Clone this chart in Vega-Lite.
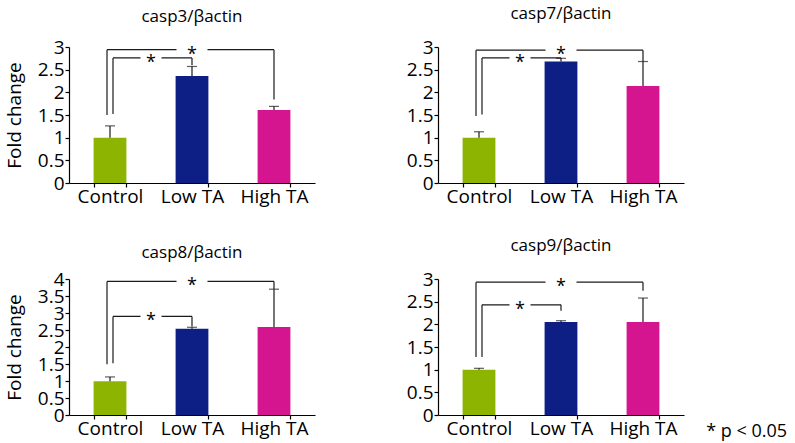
{
  "$schema": "https://vega.github.io/schema/vega-lite/v6.json",
  "padding": {"left": 5, "top": 5, "right": 0, "bottom": 0},
  "bounds": "flush",
  "columns": 2,
  "spacing": {"row": 96, "column": 123},
  "title": {"text": "* p < 0.05", "orient": "bottom", "anchor": "end", "frame": "bounds", "fontSize": 18, "fontWeight": "normal", "font": "Open Sans", "color": "#000", "dx": 103, "dy": -19},
  "datasets": {
    "bars": [
      {"panel": "casp3", "group": "Control", "mean": 1.0, "hi": 1.26},
      {"panel": "casp3", "group": "Low TA", "mean": 2.36, "hi": 2.57},
      {"panel": "casp3", "group": "High TA", "mean": 1.61, "hi": 1.69},
      {"panel": "casp7", "group": "Control", "mean": 1.0, "hi": 1.13},
      {"panel": "casp7", "group": "Low TA", "mean": 2.68, "hi": 2.75},
      {"panel": "casp7", "group": "High TA", "mean": 2.14, "hi": 2.68},
      {"panel": "casp8", "group": "Control", "mean": 0.99, "hi": 1.12},
      {"panel": "casp8", "group": "Low TA", "mean": 2.54, "hi": 2.58},
      {"panel": "casp8", "group": "High TA", "mean": 2.59, "hi": 3.7},
      {"panel": "casp9", "group": "Control", "mean": 1.0, "hi": 1.03},
      {"panel": "casp9", "group": "Low TA", "mean": 2.05, "hi": 2.08},
      {"panel": "casp9", "group": "High TA", "mean": 2.05, "hi": 2.58}
    ],
    "sig": [
      {"panel": "casp3", "type": "outer", "from": "Control", "to": "High TA", "top": 2.94, "leftEnd": 1.5, "rightEnd": 1.84},
      {"panel": "casp3", "type": "inner", "from": "Control", "to": "Low TA", "top": 2.76, "leftEnd": 1.52, "rightEnd": 2.6},
      {"panel": "casp7", "type": "outer", "from": "Control", "to": "High TA", "top": 2.93, "leftEnd": 1.48, "rightEnd": 2.68},
      {"panel": "casp7", "type": "inner", "from": "Control", "to": "Low TA", "top": 2.76, "leftEnd": 1.51, "rightEnd": 2.74},
      {"panel": "casp8", "type": "outer", "from": "Control", "to": "High TA", "top": 3.93, "leftEnd": 1.49, "rightEnd": 3.7},
      {"panel": "casp8", "type": "inner", "from": "Control", "to": "Low TA", "top": 2.9, "leftEnd": 1.52, "rightEnd": 2.6},
      {"panel": "casp9", "type": "outer", "from": "Control", "to": "High TA", "top": 2.93, "leftEnd": 1.28, "rightEnd": 2.74},
      {"panel": "casp9", "type": "inner", "from": "Control", "to": "Low TA", "top": 2.43, "leftEnd": 1.28, "rightEnd": 2.3}
    ]
  },
  "concat": [
    {
      "width": 246, "height": 136,
      "title": {"text": "casp3/βactin", "offset": 12},
      "layer": [
        {"data": {"name": "bars"}, "transform": [{"filter": "datum.panel === 'casp3'"}], "mark": {"type": "bar"}, "encoding": {
          "x": {"field": "group", "type": "nominal", "scale": {"domain": ["Control", "Low TA", "High TA"], "paddingInner": 0.6, "paddingOuter": 0.3}, "axis": {"title": null, "labelAngle": 0, "tickBand": "extent", "labelPadding": 0}},
          "y": {"field": "mean", "type": "quantitative", "scale": {"domain": [0, 3], "nice": false}, "axis": {"title": "Fold change", "values": [0, 0.5, 1, 1.5, 2, 2.5, 3], "labelOverlap": false, "labelFlush": false, "labelPadding": 1, "titlePadding": 13}},
          "color": {"field": "group", "type": "nominal", "scale": {"domain": ["Control", "Low TA", "High TA"], "range": ["#8CB400", "#0D1F85", "#D5148F"]}, "legend": null}}},
        {"data": {"name": "bars"}, "transform": [{"filter": "datum.panel === 'casp3'"}], "mark": {"type": "rule", "color": "#1a1a1a", "strokeWidth": 1.2}, "encoding": {
          "x": {"field": "group", "type": "nominal", "axis": {"title": null, "labelAngle": 0, "tickBand": "extent", "labelPadding": 0}},
          "y": {"field": "mean", "type": "quantitative", "axis": {"title": "Fold change", "values": [0, 0.5, 1, 1.5, 2, 2.5, 3], "labelOverlap": false, "labelFlush": false, "labelPadding": 1, "titlePadding": 13}},
          "y2": {"field": "hi"}}},
        {"data": {"name": "bars"}, "transform": [{"filter": "datum.panel === 'casp3'"}], "mark": {"type": "tick", "color": "#1a1a1a", "thickness": 1.2, "size": 10}, "encoding": {
          "x": {"field": "group", "type": "nominal", "axis": {"title": null, "labelAngle": 0, "tickBand": "extent", "labelPadding": 0}},
          "y": {"field": "hi", "type": "quantitative", "axis": {"title": "Fold change", "values": [0, 0.5, 1, 1.5, 2, 2.5, 3], "labelOverlap": false, "labelFlush": false, "labelPadding": 1, "titlePadding": 13}}}},
        {"data": {"name": "sig"}, "transform": [{"filter": "datum.panel === 'casp3' && datum.type === 'outer'"}], "mark": {"type": "rule", "color": "#1a1a1a", "strokeWidth": 1.2, "xOffset": -3}, "encoding": {
          "x": {"field": "from", "type": "nominal", "axis": {"title": null, "labelAngle": 0, "tickBand": "extent", "labelPadding": 0}},
          "y": {"field": "top", "type": "quantitative", "axis": {"title": "Fold change", "values": [0, 0.5, 1, 1.5, 2, 2.5, 3], "labelOverlap": false, "labelFlush": false, "labelPadding": 1, "titlePadding": 13}},
          "y2": {"field": "leftEnd"}}},
        {"data": {"name": "sig"}, "transform": [{"filter": "datum.panel === 'casp3' && datum.type === 'outer'"}], "mark": {"type": "rule", "color": "#1a1a1a", "strokeWidth": 1.2, "xOffset": -3}, "encoding": {
          "x": {"field": "from", "type": "nominal", "axis": {"title": null, "labelAngle": 0, "tickBand": "extent", "labelPadding": 0}},
          "x2": {"field": "to"},
          "y": {"field": "top", "type": "quantitative", "axis": {"title": "Fold change", "values": [0, 0.5, 1, 1.5, 2, 2.5, 3], "labelOverlap": false, "labelFlush": false, "labelPadding": 1, "titlePadding": 13}}}},
        {"data": {"name": "sig"}, "transform": [{"filter": "datum.panel === 'casp3' && datum.type === 'outer'"}], "mark": {"type": "point", "shape": "M-1,-0.2H1V0.2H-1Z", "size": 961, "filled": true, "color": "white", "opacity": 1, "strokeWidth": 0, "xOffset": 82}, "encoding": {
          "x": {"field": "from", "type": "nominal", "axis": {"title": null, "labelAngle": 0, "tickBand": "extent", "labelPadding": 0}},
          "y": {"field": "top", "type": "quantitative", "axis": {"title": "Fold change", "values": [0, 0.5, 1, 1.5, 2, 2.5, 3], "labelOverlap": false, "labelFlush": false, "labelPadding": 1, "titlePadding": 13}}}},
        {"data": {"name": "sig"}, "transform": [{"filter": "datum.panel === 'casp3' && datum.type === 'outer'"}], "mark": {"type": "text", "text": "*", "fontSize": 18, "color": "#000", "xOffset": 82, "dy": 5}, "encoding": {
          "x": {"field": "from", "type": "nominal", "axis": {"title": null, "labelAngle": 0, "tickBand": "extent", "labelPadding": 0}},
          "y": {"field": "top", "type": "quantitative", "axis": {"title": "Fold change", "values": [0, 0.5, 1, 1.5, 2, 2.5, 3], "labelOverlap": false, "labelFlush": false, "labelPadding": 1, "titlePadding": 13}}}},
        {"data": {"name": "sig"}, "transform": [{"filter": "datum.panel === 'casp3' && datum.type === 'inner'"}], "mark": {"type": "rule", "color": "#1a1a1a", "strokeWidth": 1.2, "xOffset": 3}, "encoding": {
          "x": {"field": "from", "type": "nominal", "axis": {"title": null, "labelAngle": 0, "tickBand": "extent", "labelPadding": 0}},
          "y": {"field": "top", "type": "quantitative", "axis": {"title": "Fold change", "values": [0, 0.5, 1, 1.5, 2, 2.5, 3], "labelOverlap": false, "labelFlush": false, "labelPadding": 1, "titlePadding": 13}},
          "y2": {"field": "leftEnd"}}},
        {"data": {"name": "sig"}, "transform": [{"filter": "datum.panel === 'casp3' && datum.type === 'inner'"}], "mark": {"type": "rule", "color": "#1a1a1a", "strokeWidth": 1.2, "xOffset": 3}, "encoding": {
          "x": {"field": "from", "type": "nominal", "axis": {"title": null, "labelAngle": 0, "tickBand": "extent", "labelPadding": 0}},
          "x2": {"field": "to"},
          "y": {"field": "top", "type": "quantitative", "axis": {"title": "Fold change", "values": [0, 0.5, 1, 1.5, 2, 2.5, 3], "labelOverlap": false, "labelFlush": false, "labelPadding": 1, "titlePadding": 13}}}},
        {"data": {"name": "sig"}, "transform": [{"filter": "datum.panel === 'casp3' && datum.type === 'inner'"}], "mark": {"type": "point", "shape": "M-1,-0.2H1V0.2H-1Z", "size": 441, "filled": true, "color": "white", "opacity": 1, "strokeWidth": 0, "xOffset": 41}, "encoding": {
          "x": {"field": "from", "type": "nominal", "axis": {"title": null, "labelAngle": 0, "tickBand": "extent", "labelPadding": 0}},
          "y": {"field": "top", "type": "quantitative", "axis": {"title": "Fold change", "values": [0, 0.5, 1, 1.5, 2, 2.5, 3], "labelOverlap": false, "labelFlush": false, "labelPadding": 1, "titlePadding": 13}}}},
        {"data": {"name": "sig"}, "transform": [{"filter": "datum.panel === 'casp3' && datum.type === 'inner'"}], "mark": {"type": "text", "text": "*", "fontSize": 18, "color": "#000", "xOffset": 41, "dy": 5}, "encoding": {
          "x": {"field": "from", "type": "nominal", "axis": {"title": null, "labelAngle": 0, "tickBand": "extent", "labelPadding": 0}},
          "y": {"field": "top", "type": "quantitative", "axis": {"title": "Fold change", "values": [0, 0.5, 1, 1.5, 2, 2.5, 3], "labelOverlap": false, "labelFlush": false, "labelPadding": 1, "titlePadding": 13}}}},
        {"data": {"name": "sig"}, "transform": [{"filter": "datum.panel === 'casp3'"}], "mark": {"type": "rule", "color": "#1a1a1a", "strokeWidth": 1.2}, "encoding": {
          "x": {"field": "to", "type": "nominal", "axis": {"title": null, "labelAngle": 0, "tickBand": "extent", "labelPadding": 0}},
          "y": {"field": "top", "type": "quantitative", "axis": {"title": "Fold change", "values": [0, 0.5, 1, 1.5, 2, 2.5, 3], "labelOverlap": false, "labelFlush": false, "labelPadding": 1, "titlePadding": 13}},
          "y2": {"field": "rightEnd"}}}
      ]
    },
    {
      "width": 246, "height": 136,
      "title": {"text": "casp7/βactin", "offset": 15},
      "layer": [
        {"data": {"name": "bars"}, "transform": [{"filter": "datum.panel === 'casp7'"}], "mark": {"type": "bar"}, "encoding": {
          "x": {"field": "group", "type": "nominal", "scale": {"domain": ["Control", "Low TA", "High TA"], "paddingInner": 0.6, "paddingOuter": 0.3}, "axis": {"title": null, "labelAngle": 0, "tickBand": "extent", "labelPadding": 0}},
          "y": {"field": "mean", "type": "quantitative", "scale": {"domain": [0, 3], "nice": false}, "axis": {"title": null, "values": [0, 0.5, 1, 1.5, 2, 2.5, 3], "labelOverlap": false, "labelFlush": false, "labelPadding": 1}},
          "color": {"field": "group", "type": "nominal", "scale": {"domain": ["Control", "Low TA", "High TA"], "range": ["#8CB400", "#0D1F85", "#D5148F"]}, "legend": null}}},
        {"data": {"name": "bars"}, "transform": [{"filter": "datum.panel === 'casp7'"}], "mark": {"type": "rule", "color": "#1a1a1a", "strokeWidth": 1.2}, "encoding": {
          "x": {"field": "group", "type": "nominal", "axis": {"title": null, "labelAngle": 0, "tickBand": "extent", "labelPadding": 0}},
          "y": {"field": "mean", "type": "quantitative", "axis": {"title": null, "values": [0, 0.5, 1, 1.5, 2, 2.5, 3], "labelOverlap": false, "labelFlush": false, "labelPadding": 1}},
          "y2": {"field": "hi"}}},
        {"data": {"name": "bars"}, "transform": [{"filter": "datum.panel === 'casp7'"}], "mark": {"type": "tick", "color": "#1a1a1a", "thickness": 1.2, "size": 10}, "encoding": {
          "x": {"field": "group", "type": "nominal", "axis": {"title": null, "labelAngle": 0, "tickBand": "extent", "labelPadding": 0}},
          "y": {"field": "hi", "type": "quantitative", "axis": {"title": null, "values": [0, 0.5, 1, 1.5, 2, 2.5, 3], "labelOverlap": false, "labelFlush": false, "labelPadding": 1}}}},
        {"data": {"name": "sig"}, "transform": [{"filter": "datum.panel === 'casp7' && datum.type === 'outer'"}], "mark": {"type": "rule", "color": "#1a1a1a", "strokeWidth": 1.2, "xOffset": -3}, "encoding": {
          "x": {"field": "from", "type": "nominal", "axis": {"title": null, "labelAngle": 0, "tickBand": "extent", "labelPadding": 0}},
          "y": {"field": "top", "type": "quantitative", "axis": {"title": null, "values": [0, 0.5, 1, 1.5, 2, 2.5, 3], "labelOverlap": false, "labelFlush": false, "labelPadding": 1}},
          "y2": {"field": "leftEnd"}}},
        {"data": {"name": "sig"}, "transform": [{"filter": "datum.panel === 'casp7' && datum.type === 'outer'"}], "mark": {"type": "rule", "color": "#1a1a1a", "strokeWidth": 1.2, "xOffset": -3}, "encoding": {
          "x": {"field": "from", "type": "nominal", "axis": {"title": null, "labelAngle": 0, "tickBand": "extent", "labelPadding": 0}},
          "x2": {"field": "to"},
          "y": {"field": "top", "type": "quantitative", "axis": {"title": null, "values": [0, 0.5, 1, 1.5, 2, 2.5, 3], "labelOverlap": false, "labelFlush": false, "labelPadding": 1}}}},
        {"data": {"name": "sig"}, "transform": [{"filter": "datum.panel === 'casp7' && datum.type === 'outer'"}], "mark": {"type": "point", "shape": "M-1,-0.2H1V0.2H-1Z", "size": 961, "filled": true, "color": "white", "opacity": 1, "strokeWidth": 0, "xOffset": 82}, "encoding": {
          "x": {"field": "from", "type": "nominal", "axis": {"title": null, "labelAngle": 0, "tickBand": "extent", "labelPadding": 0}},
          "y": {"field": "top", "type": "quantitative", "axis": {"title": null, "values": [0, 0.5, 1, 1.5, 2, 2.5, 3], "labelOverlap": false, "labelFlush": false, "labelPadding": 1}}}},
        {"data": {"name": "sig"}, "transform": [{"filter": "datum.panel === 'casp7' && datum.type === 'outer'"}], "mark": {"type": "text", "text": "*", "fontSize": 18, "color": "#000", "xOffset": 82, "dy": 5}, "encoding": {
          "x": {"field": "from", "type": "nominal", "axis": {"title": null, "labelAngle": 0, "tickBand": "extent", "labelPadding": 0}},
          "y": {"field": "top", "type": "quantitative", "axis": {"title": null, "values": [0, 0.5, 1, 1.5, 2, 2.5, 3], "labelOverlap": false, "labelFlush": false, "labelPadding": 1}}}},
        {"data": {"name": "sig"}, "transform": [{"filter": "datum.panel === 'casp7' && datum.type === 'inner'"}], "mark": {"type": "rule", "color": "#1a1a1a", "strokeWidth": 1.2, "xOffset": 3}, "encoding": {
          "x": {"field": "from", "type": "nominal", "axis": {"title": null, "labelAngle": 0, "tickBand": "extent", "labelPadding": 0}},
          "y": {"field": "top", "type": "quantitative", "axis": {"title": null, "values": [0, 0.5, 1, 1.5, 2, 2.5, 3], "labelOverlap": false, "labelFlush": false, "labelPadding": 1}},
          "y2": {"field": "leftEnd"}}},
        {"data": {"name": "sig"}, "transform": [{"filter": "datum.panel === 'casp7' && datum.type === 'inner'"}], "mark": {"type": "rule", "color": "#1a1a1a", "strokeWidth": 1.2, "xOffset": 3}, "encoding": {
          "x": {"field": "from", "type": "nominal", "axis": {"title": null, "labelAngle": 0, "tickBand": "extent", "labelPadding": 0}},
          "x2": {"field": "to"},
          "y": {"field": "top", "type": "quantitative", "axis": {"title": null, "values": [0, 0.5, 1, 1.5, 2, 2.5, 3], "labelOverlap": false, "labelFlush": false, "labelPadding": 1}}}},
        {"data": {"name": "sig"}, "transform": [{"filter": "datum.panel === 'casp7' && datum.type === 'inner'"}], "mark": {"type": "point", "shape": "M-1,-0.2H1V0.2H-1Z", "size": 441, "filled": true, "color": "white", "opacity": 1, "strokeWidth": 0, "xOffset": 41}, "encoding": {
          "x": {"field": "from", "type": "nominal", "axis": {"title": null, "labelAngle": 0, "tickBand": "extent", "labelPadding": 0}},
          "y": {"field": "top", "type": "quantitative", "axis": {"title": null, "values": [0, 0.5, 1, 1.5, 2, 2.5, 3], "labelOverlap": false, "labelFlush": false, "labelPadding": 1}}}},
        {"data": {"name": "sig"}, "transform": [{"filter": "datum.panel === 'casp7' && datum.type === 'inner'"}], "mark": {"type": "text", "text": "*", "fontSize": 18, "color": "#000", "xOffset": 41, "dy": 5}, "encoding": {
          "x": {"field": "from", "type": "nominal", "axis": {"title": null, "labelAngle": 0, "tickBand": "extent", "labelPadding": 0}},
          "y": {"field": "top", "type": "quantitative", "axis": {"title": null, "values": [0, 0.5, 1, 1.5, 2, 2.5, 3], "labelOverlap": false, "labelFlush": false, "labelPadding": 1}}}},
        {"data": {"name": "sig"}, "transform": [{"filter": "datum.panel === 'casp7'"}], "mark": {"type": "rule", "color": "#1a1a1a", "strokeWidth": 1.2}, "encoding": {
          "x": {"field": "to", "type": "nominal", "axis": {"title": null, "labelAngle": 0, "tickBand": "extent", "labelPadding": 0}},
          "y": {"field": "top", "type": "quantitative", "axis": {"title": null, "values": [0, 0.5, 1, 1.5, 2, 2.5, 3], "labelOverlap": false, "labelFlush": false, "labelPadding": 1}},
          "y2": {"field": "rightEnd"}}}
      ]
    },
    {
      "width": 246, "height": 136,
      "title": {"text": "casp8/βactin", "offset": 8},
      "layer": [
        {"data": {"name": "bars"}, "transform": [{"filter": "datum.panel === 'casp8'"}], "mark": {"type": "bar"}, "encoding": {
          "x": {"field": "group", "type": "nominal", "scale": {"domain": ["Control", "Low TA", "High TA"], "paddingInner": 0.6, "paddingOuter": 0.3}, "axis": {"title": null, "labelAngle": 0, "tickBand": "extent", "labelPadding": 0}},
          "y": {"field": "mean", "type": "quantitative", "scale": {"domain": [0, 4], "nice": false}, "axis": {"title": "Fold change", "values": [0, 0.5, 1, 1.5, 2, 2.5, 3, 3.5, 4], "labelOverlap": false, "labelFlush": false, "labelPadding": 1, "titlePadding": 13}},
          "color": {"field": "group", "type": "nominal", "scale": {"domain": ["Control", "Low TA", "High TA"], "range": ["#8CB400", "#0D1F85", "#D5148F"]}, "legend": null}}},
        {"data": {"name": "bars"}, "transform": [{"filter": "datum.panel === 'casp8'"}], "mark": {"type": "rule", "color": "#1a1a1a", "strokeWidth": 1.2}, "encoding": {
          "x": {"field": "group", "type": "nominal", "axis": {"title": null, "labelAngle": 0, "tickBand": "extent", "labelPadding": 0}},
          "y": {"field": "mean", "type": "quantitative", "axis": {"title": "Fold change", "values": [0, 0.5, 1, 1.5, 2, 2.5, 3, 3.5, 4], "labelOverlap": false, "labelFlush": false, "labelPadding": 1, "titlePadding": 13}},
          "y2": {"field": "hi"}}},
        {"data": {"name": "bars"}, "transform": [{"filter": "datum.panel === 'casp8'"}], "mark": {"type": "tick", "color": "#1a1a1a", "thickness": 1.2, "size": 10}, "encoding": {
          "x": {"field": "group", "type": "nominal", "axis": {"title": null, "labelAngle": 0, "tickBand": "extent", "labelPadding": 0}},
          "y": {"field": "hi", "type": "quantitative", "axis": {"title": "Fold change", "values": [0, 0.5, 1, 1.5, 2, 2.5, 3, 3.5, 4], "labelOverlap": false, "labelFlush": false, "labelPadding": 1, "titlePadding": 13}}}},
        {"data": {"name": "sig"}, "transform": [{"filter": "datum.panel === 'casp8' && datum.type === 'outer'"}], "mark": {"type": "rule", "color": "#1a1a1a", "strokeWidth": 1.2, "xOffset": -3}, "encoding": {
          "x": {"field": "from", "type": "nominal", "axis": {"title": null, "labelAngle": 0, "tickBand": "extent", "labelPadding": 0}},
          "y": {"field": "top", "type": "quantitative", "axis": {"title": "Fold change", "values": [0, 0.5, 1, 1.5, 2, 2.5, 3, 3.5, 4], "labelOverlap": false, "labelFlush": false, "labelPadding": 1, "titlePadding": 13}},
          "y2": {"field": "leftEnd"}}},
        {"data": {"name": "sig"}, "transform": [{"filter": "datum.panel === 'casp8' && datum.type === 'outer'"}], "mark": {"type": "rule", "color": "#1a1a1a", "strokeWidth": 1.2, "xOffset": -3}, "encoding": {
          "x": {"field": "from", "type": "nominal", "axis": {"title": null, "labelAngle": 0, "tickBand": "extent", "labelPadding": 0}},
          "x2": {"field": "to"},
          "y": {"field": "top", "type": "quantitative", "axis": {"title": "Fold change", "values": [0, 0.5, 1, 1.5, 2, 2.5, 3, 3.5, 4], "labelOverlap": false, "labelFlush": false, "labelPadding": 1, "titlePadding": 13}}}},
        {"data": {"name": "sig"}, "transform": [{"filter": "datum.panel === 'casp8' && datum.type === 'outer'"}], "mark": {"type": "point", "shape": "M-1,-0.2H1V0.2H-1Z", "size": 961, "filled": true, "color": "white", "opacity": 1, "strokeWidth": 0, "xOffset": 82}, "encoding": {
          "x": {"field": "from", "type": "nominal", "axis": {"title": null, "labelAngle": 0, "tickBand": "extent", "labelPadding": 0}},
          "y": {"field": "top", "type": "quantitative", "axis": {"title": "Fold change", "values": [0, 0.5, 1, 1.5, 2, 2.5, 3, 3.5, 4], "labelOverlap": false, "labelFlush": false, "labelPadding": 1, "titlePadding": 13}}}},
        {"data": {"name": "sig"}, "transform": [{"filter": "datum.panel === 'casp8' && datum.type === 'outer'"}], "mark": {"type": "text", "text": "*", "fontSize": 18, "color": "#000", "xOffset": 82, "dy": 5}, "encoding": {
          "x": {"field": "from", "type": "nominal", "axis": {"title": null, "labelAngle": 0, "tickBand": "extent", "labelPadding": 0}},
          "y": {"field": "top", "type": "quantitative", "axis": {"title": "Fold change", "values": [0, 0.5, 1, 1.5, 2, 2.5, 3, 3.5, 4], "labelOverlap": false, "labelFlush": false, "labelPadding": 1, "titlePadding": 13}}}},
        {"data": {"name": "sig"}, "transform": [{"filter": "datum.panel === 'casp8' && datum.type === 'inner'"}], "mark": {"type": "rule", "color": "#1a1a1a", "strokeWidth": 1.2, "xOffset": 3}, "encoding": {
          "x": {"field": "from", "type": "nominal", "axis": {"title": null, "labelAngle": 0, "tickBand": "extent", "labelPadding": 0}},
          "y": {"field": "top", "type": "quantitative", "axis": {"title": "Fold change", "values": [0, 0.5, 1, 1.5, 2, 2.5, 3, 3.5, 4], "labelOverlap": false, "labelFlush": false, "labelPadding": 1, "titlePadding": 13}},
          "y2": {"field": "leftEnd"}}},
        {"data": {"name": "sig"}, "transform": [{"filter": "datum.panel === 'casp8' && datum.type === 'inner'"}], "mark": {"type": "rule", "color": "#1a1a1a", "strokeWidth": 1.2, "xOffset": 3}, "encoding": {
          "x": {"field": "from", "type": "nominal", "axis": {"title": null, "labelAngle": 0, "tickBand": "extent", "labelPadding": 0}},
          "x2": {"field": "to"},
          "y": {"field": "top", "type": "quantitative", "axis": {"title": "Fold change", "values": [0, 0.5, 1, 1.5, 2, 2.5, 3, 3.5, 4], "labelOverlap": false, "labelFlush": false, "labelPadding": 1, "titlePadding": 13}}}},
        {"data": {"name": "sig"}, "transform": [{"filter": "datum.panel === 'casp8' && datum.type === 'inner'"}], "mark": {"type": "point", "shape": "M-1,-0.2H1V0.2H-1Z", "size": 441, "filled": true, "color": "white", "opacity": 1, "strokeWidth": 0, "xOffset": 41}, "encoding": {
          "x": {"field": "from", "type": "nominal", "axis": {"title": null, "labelAngle": 0, "tickBand": "extent", "labelPadding": 0}},
          "y": {"field": "top", "type": "quantitative", "axis": {"title": "Fold change", "values": [0, 0.5, 1, 1.5, 2, 2.5, 3, 3.5, 4], "labelOverlap": false, "labelFlush": false, "labelPadding": 1, "titlePadding": 13}}}},
        {"data": {"name": "sig"}, "transform": [{"filter": "datum.panel === 'casp8' && datum.type === 'inner'"}], "mark": {"type": "text", "text": "*", "fontSize": 18, "color": "#000", "xOffset": 41, "dy": 5}, "encoding": {
          "x": {"field": "from", "type": "nominal", "axis": {"title": null, "labelAngle": 0, "tickBand": "extent", "labelPadding": 0}},
          "y": {"field": "top", "type": "quantitative", "axis": {"title": "Fold change", "values": [0, 0.5, 1, 1.5, 2, 2.5, 3, 3.5, 4], "labelOverlap": false, "labelFlush": false, "labelPadding": 1, "titlePadding": 13}}}},
        {"data": {"name": "sig"}, "transform": [{"filter": "datum.panel === 'casp8'"}], "mark": {"type": "rule", "color": "#1a1a1a", "strokeWidth": 1.2}, "encoding": {
          "x": {"field": "to", "type": "nominal", "axis": {"title": null, "labelAngle": 0, "tickBand": "extent", "labelPadding": 0}},
          "y": {"field": "top", "type": "quantitative", "axis": {"title": "Fold change", "values": [0, 0.5, 1, 1.5, 2, 2.5, 3, 3.5, 4], "labelOverlap": false, "labelFlush": false, "labelPadding": 1, "titlePadding": 13}},
          "y2": {"field": "rightEnd"}}}
      ]
    },
    {
      "width": 246, "height": 136,
      "title": {"text": "casp9/βactin", "offset": 15},
      "layer": [
        {"data": {"name": "bars"}, "transform": [{"filter": "datum.panel === 'casp9'"}], "mark": {"type": "bar"}, "encoding": {
          "x": {"field": "group", "type": "nominal", "scale": {"domain": ["Control", "Low TA", "High TA"], "paddingInner": 0.6, "paddingOuter": 0.3}, "axis": {"title": null, "labelAngle": 0, "tickBand": "extent", "labelPadding": 0}},
          "y": {"field": "mean", "type": "quantitative", "scale": {"domain": [0, 3], "nice": false}, "axis": {"title": null, "values": [0, 0.5, 1, 1.5, 2, 2.5, 3], "labelOverlap": false, "labelFlush": false, "labelPadding": 1}},
          "color": {"field": "group", "type": "nominal", "scale": {"domain": ["Control", "Low TA", "High TA"], "range": ["#8CB400", "#0D1F85", "#D5148F"]}, "legend": null}}},
        {"data": {"name": "bars"}, "transform": [{"filter": "datum.panel === 'casp9'"}], "mark": {"type": "rule", "color": "#1a1a1a", "strokeWidth": 1.2}, "encoding": {
          "x": {"field": "group", "type": "nominal", "axis": {"title": null, "labelAngle": 0, "tickBand": "extent", "labelPadding": 0}},
          "y": {"field": "mean", "type": "quantitative", "axis": {"title": null, "values": [0, 0.5, 1, 1.5, 2, 2.5, 3], "labelOverlap": false, "labelFlush": false, "labelPadding": 1}},
          "y2": {"field": "hi"}}},
        {"data": {"name": "bars"}, "transform": [{"filter": "datum.panel === 'casp9'"}], "mark": {"type": "tick", "color": "#1a1a1a", "thickness": 1.2, "size": 10}, "encoding": {
          "x": {"field": "group", "type": "nominal", "axis": {"title": null, "labelAngle": 0, "tickBand": "extent", "labelPadding": 0}},
          "y": {"field": "hi", "type": "quantitative", "axis": {"title": null, "values": [0, 0.5, 1, 1.5, 2, 2.5, 3], "labelOverlap": false, "labelFlush": false, "labelPadding": 1}}}},
        {"data": {"name": "sig"}, "transform": [{"filter": "datum.panel === 'casp9' && datum.type === 'outer'"}], "mark": {"type": "rule", "color": "#1a1a1a", "strokeWidth": 1.2, "xOffset": -3}, "encoding": {
          "x": {"field": "from", "type": "nominal", "axis": {"title": null, "labelAngle": 0, "tickBand": "extent", "labelPadding": 0}},
          "y": {"field": "top", "type": "quantitative", "axis": {"title": null, "values": [0, 0.5, 1, 1.5, 2, 2.5, 3], "labelOverlap": false, "labelFlush": false, "labelPadding": 1}},
          "y2": {"field": "leftEnd"}}},
        {"data": {"name": "sig"}, "transform": [{"filter": "datum.panel === 'casp9' && datum.type === 'outer'"}], "mark": {"type": "rule", "color": "#1a1a1a", "strokeWidth": 1.2, "xOffset": -3}, "encoding": {
          "x": {"field": "from", "type": "nominal", "axis": {"title": null, "labelAngle": 0, "tickBand": "extent", "labelPadding": 0}},
          "x2": {"field": "to"},
          "y": {"field": "top", "type": "quantitative", "axis": {"title": null, "values": [0, 0.5, 1, 1.5, 2, 2.5, 3], "labelOverlap": false, "labelFlush": false, "labelPadding": 1}}}},
        {"data": {"name": "sig"}, "transform": [{"filter": "datum.panel === 'casp9' && datum.type === 'outer'"}], "mark": {"type": "point", "shape": "M-1,-0.2H1V0.2H-1Z", "size": 961, "filled": true, "color": "white", "opacity": 1, "strokeWidth": 0, "xOffset": 82}, "encoding": {
          "x": {"field": "from", "type": "nominal", "axis": {"title": null, "labelAngle": 0, "tickBand": "extent", "labelPadding": 0}},
          "y": {"field": "top", "type": "quantitative", "axis": {"title": null, "values": [0, 0.5, 1, 1.5, 2, 2.5, 3], "labelOverlap": false, "labelFlush": false, "labelPadding": 1}}}},
        {"data": {"name": "sig"}, "transform": [{"filter": "datum.panel === 'casp9' && datum.type === 'outer'"}], "mark": {"type": "text", "text": "*", "fontSize": 18, "color": "#000", "xOffset": 82, "dy": 5}, "encoding": {
          "x": {"field": "from", "type": "nominal", "axis": {"title": null, "labelAngle": 0, "tickBand": "extent", "labelPadding": 0}},
          "y": {"field": "top", "type": "quantitative", "axis": {"title": null, "values": [0, 0.5, 1, 1.5, 2, 2.5, 3], "labelOverlap": false, "labelFlush": false, "labelPadding": 1}}}},
        {"data": {"name": "sig"}, "transform": [{"filter": "datum.panel === 'casp9' && datum.type === 'inner'"}], "mark": {"type": "rule", "color": "#1a1a1a", "strokeWidth": 1.2, "xOffset": 3}, "encoding": {
          "x": {"field": "from", "type": "nominal", "axis": {"title": null, "labelAngle": 0, "tickBand": "extent", "labelPadding": 0}},
          "y": {"field": "top", "type": "quantitative", "axis": {"title": null, "values": [0, 0.5, 1, 1.5, 2, 2.5, 3], "labelOverlap": false, "labelFlush": false, "labelPadding": 1}},
          "y2": {"field": "leftEnd"}}},
        {"data": {"name": "sig"}, "transform": [{"filter": "datum.panel === 'casp9' && datum.type === 'inner'"}], "mark": {"type": "rule", "color": "#1a1a1a", "strokeWidth": 1.2, "xOffset": 3}, "encoding": {
          "x": {"field": "from", "type": "nominal", "axis": {"title": null, "labelAngle": 0, "tickBand": "extent", "labelPadding": 0}},
          "x2": {"field": "to"},
          "y": {"field": "top", "type": "quantitative", "axis": {"title": null, "values": [0, 0.5, 1, 1.5, 2, 2.5, 3], "labelOverlap": false, "labelFlush": false, "labelPadding": 1}}}},
        {"data": {"name": "sig"}, "transform": [{"filter": "datum.panel === 'casp9' && datum.type === 'inner'"}], "mark": {"type": "point", "shape": "M-1,-0.2H1V0.2H-1Z", "size": 441, "filled": true, "color": "white", "opacity": 1, "strokeWidth": 0, "xOffset": 41}, "encoding": {
          "x": {"field": "from", "type": "nominal", "axis": {"title": null, "labelAngle": 0, "tickBand": "extent", "labelPadding": 0}},
          "y": {"field": "top", "type": "quantitative", "axis": {"title": null, "values": [0, 0.5, 1, 1.5, 2, 2.5, 3], "labelOverlap": false, "labelFlush": false, "labelPadding": 1}}}},
        {"data": {"name": "sig"}, "transform": [{"filter": "datum.panel === 'casp9' && datum.type === 'inner'"}], "mark": {"type": "text", "text": "*", "fontSize": 18, "color": "#000", "xOffset": 41, "dy": 5}, "encoding": {
          "x": {"field": "from", "type": "nominal", "axis": {"title": null, "labelAngle": 0, "tickBand": "extent", "labelPadding": 0}},
          "y": {"field": "top", "type": "quantitative", "axis": {"title": null, "values": [0, 0.5, 1, 1.5, 2, 2.5, 3], "labelOverlap": false, "labelFlush": false, "labelPadding": 1}}}},
        {"data": {"name": "sig"}, "transform": [{"filter": "datum.panel === 'casp9'"}], "mark": {"type": "rule", "color": "#1a1a1a", "strokeWidth": 1.2}, "encoding": {
          "x": {"field": "to", "type": "nominal", "axis": {"title": null, "labelAngle": 0, "tickBand": "extent", "labelPadding": 0}},
          "y": {"field": "top", "type": "quantitative", "axis": {"title": null, "values": [0, 0.5, 1, 1.5, 2, 2.5, 3], "labelOverlap": false, "labelFlush": false, "labelPadding": 1}},
          "y2": {"field": "rightEnd"}}}
      ]
    }
  ],
  "config": {
    "font": "Open Sans",
    "numberFormat": "~g",
    "view": {"stroke": null},
    "axis": {"labelFont": "Open Sans", "titleFont": "Open Sans", "labelFontSize": 19, "titleFontSize": 19, "titleFontWeight": "normal", "labelColor": "#000", "titleColor": "#000", "domainColor": "#000", "tickColor": "#000", "tickSize": 4, "domainWidth": 1.2, "tickWidth": 1.2, "grid": false},
    "title": {"font": "Open Sans", "fontSize": 17, "fontWeight": "normal", "color": "#000", "frame": "group"}
  }
}
